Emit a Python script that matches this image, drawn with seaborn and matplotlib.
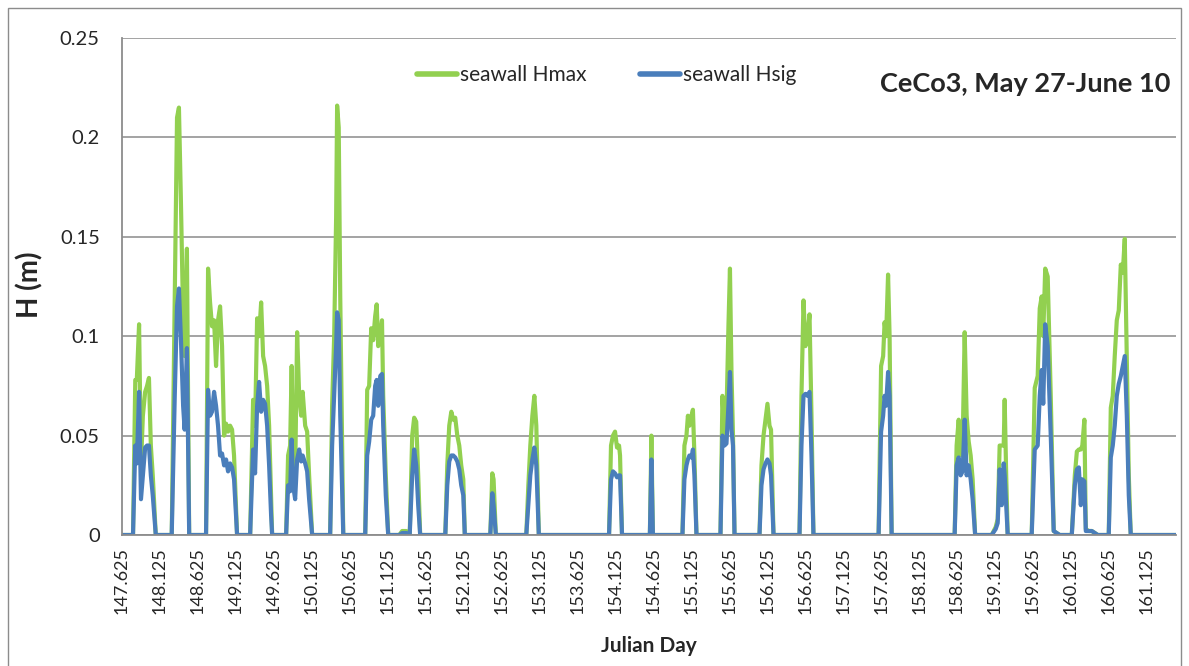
import numpy as np
import pandas as pd
import matplotlib
matplotlib.use("Agg")
import matplotlib.pyplot as plt
import seaborn as sns

# ---- data (Julian day, H in metres) ----
day = [
    147.625,
    147.770, 147.800, 147.820, 147.850, 147.875, 147.900, 147.930, 147.955, 147.980, 148.005, 148.030, 148.070,
    148.280, 148.320, 148.350, 148.375, 148.400, 148.430, 148.450, 148.480, 148.510,
    148.732, 148.759, 148.785, 148.811, 148.838, 148.864, 148.890, 148.917, 148.943, 148.970, 148.996, 149.022, 149.049, 149.075, 149.101, 149.141,
    149.313, 149.352, 149.378, 149.405, 149.431, 149.458, 149.484, 149.510, 149.537, 149.563, 149.589, 149.603,
    149.787, 149.813, 149.840, 149.860, 149.879, 149.906, 149.932, 149.959, 149.985, 150.005, 150.038, 150.064, 150.090, 150.130,
    150.367, 150.393, 150.420, 150.446, 150.459, 150.480, 150.500, 150.540,
    150.829, 150.855, 150.881, 150.908, 150.934, 150.960, 150.980, 151.000, 151.027, 151.050, 151.066, 151.100, 151.132,
    151.277, 151.316, 151.369, 151.396,
    151.415, 151.448, 151.474, 151.501, 151.527, 151.553,
    151.884, 151.910, 151.936, 151.963, 151.989, 152.015, 152.042, 152.068, 152.094, 152.121, 152.141,
    152.477, 152.503, 152.520, 152.550,
    152.951, 152.978, 153.004, 153.031, 153.057, 153.083, 153.116,
    154.041, 154.067, 154.093, 154.120, 154.146, 154.173, 154.186, 154.212,
    154.579, 154.599, 154.619,
    155.008, 155.034, 155.061, 155.080, 155.100, 155.127, 155.146, 155.166, 155.193,
    155.509, 155.535, 155.562, 155.588, 155.614, 155.634, 155.654, 155.674, 155.694,
    156.023, 156.049, 156.076, 156.102, 156.128, 156.155, 156.175, 156.208,
    156.550, 156.576, 156.603, 156.629, 156.655, 156.682, 156.708, 156.734,
    157.592, 157.625, 157.652, 157.671, 157.691, 157.717, 157.737, 157.764,
    158.594, 158.620, 158.647, 158.673, 158.699, 158.726, 158.752, 158.779, 158.805, 158.831, 158.864,
    159.082, 159.135, 159.161, 159.187, 159.214, 159.240, 159.253, 159.273, 159.293,
    159.609, 159.649, 159.688, 159.715, 159.741, 159.761, 159.787, 159.820, 159.860, 159.899, 159.939, 159.978,
    160.137, 160.177, 160.204, 160.230, 160.256, 160.276, 160.303, 160.322, 160.362, 160.401, 160.441, 160.480,
    160.624, 160.651, 160.677, 160.703, 160.730, 160.756, 160.783, 160.809, 160.835, 160.862, 160.888, 160.914,
    161.510,
]

hmax = [
    0,
    0, 0.078, 0.078, 0.106, 0.035, 0.060, 0.072, 0.075, 0.079, 0.045, 0.030, 0,
    0, 0.120, 0.210, 0.215, 0.170, 0.110, 0.090, 0.144, 0,
    0, 0.134, 0.117, 0.105, 0.108, 0.085, 0.108, 0.115, 0.095, 0.050, 0.056, 0.052, 0.055, 0.053, 0.040, 0,
    0, 0.068, 0.055, 0.109, 0.100, 0.117, 0.090, 0.085, 0.075, 0.055, 0.020, 0,
    0, 0.040, 0.045, 0.085, 0.035, 0.030, 0.102, 0.070, 0.060, 0.072, 0.055, 0.052, 0.030, 0,
    0, 0.065, 0.100, 0.160, 0.216, 0.205, 0.120, 0,
    0, 0.073, 0.075, 0.104, 0.098, 0.110, 0.116, 0.095, 0.100, 0.108, 0.070, 0.030, 0,
    0, 0.002, 0.002, 0,
    0, 0.050, 0.059, 0.057, 0.030, 0,
    0, 0.035, 0.055, 0.062, 0.058, 0.059, 0.050, 0.045, 0.035, 0.028, 0,
    0, 0.031, 0.028, 0,
    0, 0.025, 0.045, 0.060, 0.070, 0.055, 0,
    0, 0.045, 0.050, 0.052, 0.044, 0.045, 0.040, 0,
    0, 0.050, 0,
    0, 0.045, 0.050, 0.060, 0.055, 0.060, 0.063, 0.040, 0,
    0, 0.070, 0.050, 0.060, 0.105, 0.134, 0.082, 0.050, 0,
    0, 0.035, 0.050, 0.058, 0.066, 0.055, 0.053, 0,
    0, 0.070, 0.118, 0.095, 0.100, 0.111, 0.060, 0,
    0, 0.085, 0.090, 0.107, 0.100, 0.131, 0.100, 0,
    0, 0.045, 0.058, 0.040, 0.045, 0.102, 0.060, 0.047, 0.040, 0.028, 0,
    0, 0.004, 0.008, 0.045, 0.045, 0.045, 0.068, 0.030, 0,
    0, 0.074, 0.080, 0.114, 0.120, 0.100, 0.134, 0.130, 0.070, 0.002, 0.001, 0,
    0, 0.030, 0.042, 0.043, 0.043, 0.045, 0.058, 0.003, 0.002, 0.002, 0.001, 0,
    0, 0.064, 0.070, 0.090, 0.108, 0.113, 0.136, 0.132, 0.149, 0.090, 0.030, 0,
    0,
]

hsig = [
    0,
    0, 0.045, 0.036, 0.072, 0.018, 0.030, 0.044, 0.045, 0.045, 0.030, 0.020, 0,
    0, 0.070, 0.115, 0.124, 0.100, 0.065, 0.053, 0.094, 0,
    0, 0.073, 0.060, 0.062, 0.072, 0.065, 0.055, 0.040, 0.041, 0.035, 0.038, 0.032, 0.036, 0.034, 0.028, 0,
    0, 0.043, 0.031, 0.065, 0.077, 0.062, 0.068, 0.066, 0.055, 0.035, 0.010, 0,
    0, 0.025, 0.022, 0.048, 0.025, 0.018, 0.038, 0.043, 0.037, 0.040, 0.036, 0.032, 0.018, 0,
    0, 0.045, 0.070, 0.095, 0.112, 0.108, 0.060, 0,
    0, 0.040, 0.047, 0.058, 0.060, 0.075, 0.078, 0.065, 0.080, 0.081, 0.055, 0.020, 0,
    0, 0.001, 0.001, 0,
    0, 0.030, 0.043, 0.035, 0.015, 0,
    0, 0.025, 0.037, 0.040, 0.040, 0.039, 0.037, 0.033, 0.025, 0.020, 0,
    0, 0.021, 0.015, 0,
    0, 0.015, 0.030, 0.038, 0.044, 0.035, 0,
    0, 0.028, 0.032, 0.031, 0.029, 0.030, 0.030, 0,
    0, 0.038, 0,
    0, 0.028, 0.035, 0.038, 0.040, 0.039, 0.043, 0.030, 0,
    0, 0.050, 0.045, 0.046, 0.065, 0.082, 0.053, 0.045, 0,
    0, 0.025, 0.033, 0.036, 0.038, 0.036, 0.030, 0,
    0, 0.045, 0.070, 0.071, 0.070, 0.072, 0.040, 0,
    0, 0.052, 0.060, 0.070, 0.065, 0.082, 0.070, 0,
    0, 0.035, 0.039, 0.030, 0.032, 0.058, 0.030, 0.035, 0.028, 0.018, 0,
    0, 0.003, 0.006, 0.033, 0.015, 0.036, 0.030, 0.015, 0,
    0, 0.043, 0.045, 0.070, 0.083, 0.066, 0.106, 0.095, 0.050, 0.002, 0.001, 0,
    0, 0.025, 0.033, 0.034, 0.015, 0.028, 0.027, 0.002, 0.002, 0.002, 0.001, 0,
    0, 0.039, 0.045, 0.055, 0.070, 0.076, 0.080, 0.085, 0.090, 0.060, 0.020, 0,
    0,
]

series_names = ["seawall Hmax", "seawall Hsig"]
tick_days = [147.625 + 0.5 * k for k in range(28)]
y_ticks = [0, 0.05, 0.1, 0.15, 0.2, 0.25]
y_tick_labels = ["0", "0.05", "0.1", "0.15", "0.2", "0.25"]

df = pd.concat([
    pd.DataFrame({"day": day, "H": hmax, "series": series_names[0]}),
    pd.DataFrame({"day": day, "H": hsig, "series": series_names[1]}),
], ignore_index=True)

sns.set_style("white")
plt.rcParams["font.family"] = ["Lato", "DejaVu Sans"]

fig = plt.figure(figsize=(11.89, 6.66), dpi=100)
ax = fig.add_axes([122 / 1189, 1 - 535 / 666, (1176 - 122) / 1189, (535 - 38) / 666])

sns.lineplot(data=df, x="day", y="H", hue="series", estimator=None,
             palette={"seawall Hmax": "#92D050", "seawall Hsig": "#4A7EBB"},
             linewidth=3.0, ax=ax, legend=True)

ax.set_xlim(147.625, 161.51)
ax.set_ylim(0, 0.25)
ax.set_xticks(tick_days)
ax.set_xticklabels([f"{d:.3f}" for d in tick_days], rotation=90, fontsize=13)
ax.set_yticks(y_ticks)
ax.set_yticklabels(y_tick_labels, fontsize=14.5)
ax.tick_params(axis="x", length=0, pad=9)
ax.tick_params(axis="y", length=0, pad=16)
ax.grid(axis="y", color="#9c9c9c", linewidth=1.3)
ax.grid(axis="x", visible=False)
ax.set_axisbelow(True)
for s in ["top", "right"]:
    ax.spines[s].set_visible(False)
for s in ["left", "bottom"]:
    ax.spines[s].set_color("#8c8c8c")
    ax.spines[s].set_linewidth(1.3)

ax.set_xlabel("")
ax.set_ylabel("")
fig.text(649 / 1189, 1 - 646 / 666, "Julian Day", ha="center", va="center",
         fontsize=15, fontweight="bold")
fig.text(30 / 1189, 1 - 285 / 666, "H (m)", ha="center", va="center", rotation=90,
         fontsize=20, fontweight="bold")

ax.get_legend().remove()
handles, labels = ax.get_legend_handles_labels()
leg = fig.legend(handles, labels, loc="center left",
                 bbox_to_anchor=(417 / 1189, 1 - 75 / 666), bbox_transform=fig.transFigure,
                 ncol=2, frameon=False, borderpad=0, borderaxespad=0,
                 fontsize=15, handlelength=1.9, columnspacing=2.6, handletextpad=0.15)
for line in leg.get_lines():
    line.set_linewidth(4)

fig.text(1170 / 1189, 1 - 84 / 666, "CeCo3, May 27-June 10", ha="right", va="center",
         fontsize=19.5, fontweight="bold")

fig.patches.append(plt.Rectangle((8 / 1189, -0.01), (1181 - 8) / 1189, 1 - 8 / 666 + 0.01,
                                 transform=fig.transFigure, fill=False,
                                 edgecolor="#8c8c8c", linewidth=1.0))

fig.savefig("out.png", dpi=100)
